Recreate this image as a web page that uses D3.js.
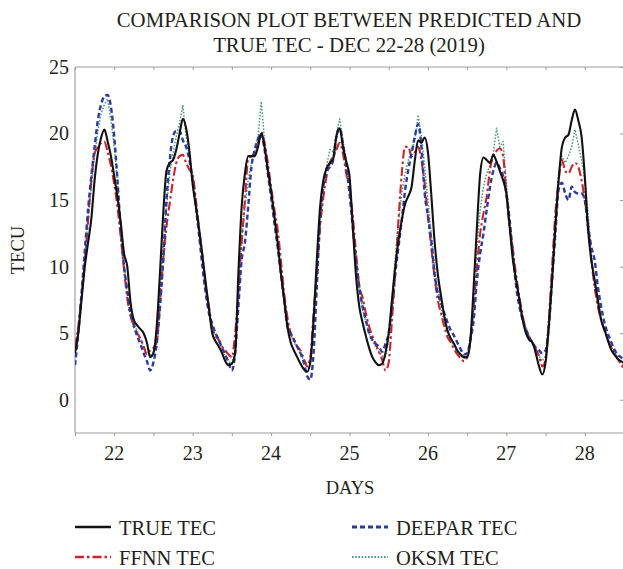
<!DOCTYPE html>
<html>
<head>
<meta charset="utf-8">
<script src="https://cdn.jsdelivr.net/npm/d3@7"></script>
<style>
  html, body { margin: 0; padding: 0; background: #fff; }
  svg text { font-family: "Liberation Serif", "DejaVu Serif", serif; fill: #231f20; }
</style>
</head>
<body>
<svg id="chart" width="623" height="569"></svg>
<script>
// Hourly TEC values, Dec 22 00:00 through Dec 29 00:00 (2019)
const dayLabels = ["22", "23", "24", "25", "26", "27", "28"];
const yTicks = [0, 5, 10, 15, 20, 25];

const trueTec = [
  3.5, 5.0, 7.5, 10.0, 11.8, 13.6, 16.5, 18.5, 19.7, 20.3, 19.4, 18.3, 16.8, 15.2, 13.3, 11.0, 10.0, 7.3, 6.0, 5.6, 5.3, 5.0, 4.3, 3.2,
  3.5, 5.5, 9.5, 14.0, 17.2, 17.8, 18.0, 18.8, 20.0, 21.1, 20.4, 18.7, 16.2, 14.5, 12.8, 10.8, 8.8, 6.8, 5.0, 4.4, 4.0, 3.5, 2.9, 2.6,
  2.7, 3.5, 9.5, 14.5, 17.0, 18.3, 18.3, 18.3, 19.0, 20.0, 19.0, 17.3, 15.7, 13.8, 11.8, 9.5, 7.5, 5.5, 4.3, 3.7, 3.2, 2.7, 2.3, 2.1,
  2.8, 6.0, 10.5, 14.5, 16.5, 17.4, 17.8, 18.1, 19.8, 20.4, 19.0, 17.9, 16.8, 13.0, 9.3, 7.0, 5.8, 4.8, 3.9, 3.2, 2.8, 2.6, 2.7, 3.5,
  5.0, 7.5, 10.0, 12.0, 13.5, 14.7, 15.3, 16.0, 18.0, 19.5, 19.3, 19.7, 18.6, 15.5, 12.0, 9.5, 7.8, 6.3, 5.2, 4.6, 4.2, 3.7, 3.4, 3.2,
  3.2, 4.5, 8.5, 13.0, 17.0, 18.2, 18.0, 17.8, 18.4, 17.9, 17.2, 16.5, 15.5, 13.0, 10.5, 9.0, 7.5, 6.0, 5.0, 4.5, 4.3, 3.5, 2.5, 1.9,
  2.8, 5.5, 9.0, 13.0, 16.5, 19.0, 19.7, 19.9, 21.0, 21.8, 21.0, 19.8, 16.8, 12.8, 10.5, 9.0, 7.5, 6.0, 5.3, 4.5, 3.8, 3.4, 3.1, 2.9,
  2.8
];

const ffnnTec = [
  4.0, 5.5, 7.8, 10.3, 13.5, 16.5, 18.5, 19.0, 19.3, 19.4, 18.6, 17.6, 16.2, 14.5, 12.2, 9.8, 7.6, 6.3, 5.5, 5.0, 4.6, 4.0, 3.4, 3.7,
  3.9, 4.3, 7.2, 10.5, 13.0, 14.8, 16.5, 17.8, 18.3, 18.4, 17.8, 17.3, 16.9, 15.0, 12.8, 10.8, 8.5, 7.0, 5.4, 4.8, 4.5, 4.0, 3.7, 3.4,
  3.2, 5.0, 8.0, 11.8, 15.0, 18.1, 18.3, 18.5, 19.3, 20.1, 19.3, 17.8, 16.0, 14.3, 12.8, 10.5, 8.0, 6.2, 5.0, 4.5, 4.0, 3.7, 3.1, 2.5,
  3.2, 6.5, 9.5, 13.0, 15.2, 16.8, 17.8, 18.3, 18.8, 19.3, 18.5, 17.0, 15.8, 13.8, 11.0, 8.5, 7.7, 6.5, 5.5, 4.8, 4.2, 3.6, 3.0, 2.2,
  2.8, 6.0, 9.5, 13.5, 17.0, 19.0, 19.0, 18.3, 18.6, 19.0, 18.0, 16.2, 13.8, 11.5, 9.3, 7.5, 6.5, 5.5, 4.7, 4.3, 3.8, 3.4, 3.1, 2.9,
  3.2, 4.5, 7.0, 10.0, 12.5, 14.0, 15.3, 17.3, 18.3, 18.7, 18.9, 18.3, 15.5, 13.0, 11.3, 9.3, 7.7, 6.3, 5.3, 4.7, 4.2, 3.8, 3.3, 2.5,
  3.0, 6.0, 10.0, 14.0, 16.5, 18.0, 17.2, 17.0, 17.5, 17.8, 17.5, 16.5, 15.0, 13.2, 10.5, 8.5, 7.0, 6.0, 5.2, 4.6, 4.0, 3.6, 3.1, 2.7,
  2.3
];

const deeparTec = [
  2.6, 5.0, 8.0, 11.2, 14.3, 16.8, 19.0, 21.0, 22.2, 22.8, 22.9, 22.0, 19.8, 16.5, 12.8, 10.0, 8.2, 6.5, 5.6, 4.8, 4.2, 3.5, 2.9, 2.2,
  2.8, 4.2, 7.0, 10.5, 15.0, 18.0, 19.8, 20.2, 20.2, 19.5, 19.0, 18.0, 16.5, 14.5, 12.3, 10.0, 8.0, 6.5, 5.7, 5.0, 4.5, 3.9, 3.4, 2.8,
  2.2, 3.5, 7.0, 10.5, 11.8, 14.5, 17.5, 18.8, 19.6, 20.0, 18.8, 17.0, 15.2, 13.3, 11.5, 9.5, 7.5, 5.5, 5.0, 4.5, 4.0, 3.5, 2.8, 1.8,
  1.5, 3.5, 8.5, 13.5, 16.0, 17.2, 17.5, 18.0, 19.8, 20.4, 19.2, 17.6, 15.5, 13.0, 10.5, 8.5, 7.0, 6.0, 5.0, 4.5, 4.2, 4.0, 3.6, 4.2,
  5.0, 7.0, 9.5, 11.5, 13.5, 15.7, 17.3, 18.5, 19.8, 20.7, 19.0, 15.5, 13.8, 12.0, 9.5, 8.0, 7.3, 6.5, 5.8, 5.2, 4.8, 4.3, 3.8, 3.4,
  3.5, 4.5, 6.0, 9.0, 11.0, 12.5, 14.3, 16.0, 17.2, 17.8, 17.4, 16.8, 15.5, 13.5, 11.0, 8.5, 7.0, 6.0, 5.3, 4.7, 4.3, 3.9, 3.7, 3.5,
  3.7, 5.5, 9.0, 12.5, 15.8, 16.3, 15.5, 15.0, 16.0, 15.6, 15.5, 15.5, 15.0, 13.0, 11.5, 10.5, 8.5, 7.0, 5.8, 5.0, 4.4, 3.8, 3.4, 3.2,
  3.0
];

const oksmTec = [
  3.2, 5.3, 7.8, 10.8, 13.5, 16.0, 18.3, 20.2, 21.5, 22.2, 22.6, 21.0, 19.0, 16.3, 13.0, 10.3, 8.0, 6.5, 5.7, 5.2, 4.6, 4.0, 3.5, 3.3,
  3.6, 5.0, 8.0, 11.5, 14.5, 17.0, 18.5, 19.8, 20.8, 22.1, 19.8, 18.3, 16.6, 14.3, 12.3, 10.2, 8.2, 6.8, 5.6, 4.9, 4.4, 3.8, 3.2, 2.9,
  2.7, 4.0, 8.5, 12.0, 14.5, 16.5, 17.8, 18.6, 19.8, 22.4, 19.5, 17.5, 15.6, 13.8, 12.0, 9.8, 7.8, 5.9, 4.9, 4.3, 3.9, 3.4, 3.0, 2.7,
  3.0, 5.5, 9.5, 13.5, 16.0, 17.6, 18.8, 18.6, 20.0, 21.1, 19.5, 18.0, 16.3, 13.5, 10.5, 8.3, 6.8, 5.8, 5.0, 4.4, 4.0, 3.6, 3.3, 3.2,
  4.5, 7.5, 10.5, 13.5, 15.5, 17.0, 18.0, 18.8, 19.5, 21.4, 19.8, 17.5, 15.0, 12.5, 10.0, 8.3, 7.0, 5.8, 5.0, 4.5, 4.0, 3.6, 3.3, 3.1,
  3.3, 4.8, 8.0, 11.5, 14.3, 16.0, 17.0, 17.6, 18.5, 20.4, 19.0, 19.4, 16.3, 13.3, 10.8, 8.8, 7.2, 6.0, 5.1, 4.6, 4.2, 3.8, 3.3, 2.9,
  3.3, 6.0, 10.0, 14.0, 17.0, 18.3, 17.8, 18.3, 19.0, 20.3, 19.2, 18.0, 16.5, 14.0, 11.0, 8.5, 7.0, 6.0, 5.2, 4.6, 4.0, 3.6, 3.2, 2.8,
  2.6
];

const seriesNames = ["TRUE TEC", "FFNN TEC", "DEEPAR TEC", "OKSM TEC"];

const serif = "'Liberation Serif', 'DejaVu Serif', serif";
const textColor = "#231f20";
const svg = d3.select("#chart");
const plotLeft = 75, plotRight = 624, plotTop = 67, plotBottom = 433;
const axisColor = "#9b9b9b";

const x = d3.scaleLinear().domain([0, 168]).range([plotLeft, plotRight]);
const y = d3.scaleLinear().domain([-2.5, 25]).range([plotBottom, plotTop]);

function label(sel, size) {
  return sel.style("font-family", serif).style("font-size", size + "px").attr("fill", textColor);
}

// clip the traces to the plotting frame
svg.append("defs").append("clipPath").attr("id", "plotClip")
  .append("rect").attr("x", plotLeft).attr("y", plotTop)
  .attr("width", plotRight - plotLeft).attr("height", plotBottom - plotTop);

// title
const title = label(svg.append("text").attr("text-anchor", "middle"), 20.8);
title.append("tspan").attr("x", 349).attr("y", 27).text("COMPARISON PLOT BETWEEN PREDICTED AND");
title.append("tspan").attr("x", 349).attr("y", 52).text("TRUE TEC - DEC 22-28 (2019)");

// frame
const frame = svg.append("g").attr("stroke", axisColor).attr("stroke-width", 1.1).attr("fill", "none");
frame.append("line").attr("x1", plotLeft).attr("x2", plotRight).attr("y1", plotTop).attr("y2", plotTop);
frame.append("line").attr("x1", plotLeft).attr("x2", plotRight).attr("y1", plotBottom).attr("y2", plotBottom);
frame.append("line").attr("x1", plotLeft).attr("x2", plotLeft).attr("y1", plotTop).attr("y2", plotBottom);

// x ticks every half day
const halfDays = d3.range(0, 169, 12);
const gx = svg.append("g").attr("transform", `translate(0,${plotBottom})`)
  .call(d3.axisBottom(x).tickValues(halfDays).tickSize(3).tickFormat(""));
gx.select(".domain").remove();
gx.selectAll(".tick line").attr("stroke", axisColor);
const gxTop = svg.append("g").attr("transform", `translate(0,${plotTop})`)
  .call(d3.axisBottom(x).tickValues(halfDays).tickSize(3).tickFormat(""));
gxTop.select(".domain").remove();
gxTop.selectAll(".tick line").attr("stroke", axisColor);

// day labels centred on each day
label(svg.append("g").selectAll("text").data(dayLabels).join("text")
  .attr("x", (d, i) => x(i * 24 + 12))
  .attr("y", 460)
  .attr("text-anchor", "middle"), 20)
  .text(d => d);

// y axis
const gy = svg.append("g").attr("transform", `translate(${plotLeft},0)`)
  .call(d3.axisLeft(y).tickValues(yTicks).tickSize(0).tickPadding(6));
gy.select(".domain").remove();
label(gy.selectAll(".tick text"), 20);
const gyR = svg.append("g").attr("transform", `translate(${plotRight - 1},0)`)
  .call(d3.axisLeft(y).tickValues(yTicks).tickSize(3).tickFormat(""));
gyR.select(".domain").remove();
gyR.selectAll(".tick line").attr("stroke", axisColor);

// axis titles
label(svg.append("text").attr("x", 350).attr("y", 494).attr("text-anchor", "middle"), 18.5).text("DAYS");
label(svg.append("text").attr("transform", "translate(24,250) rotate(-90)").attr("text-anchor", "middle"), 18.5)
  .text("TECU");

// traces
const styles = [
  { data: trueTec, color: "#111111", width: 2.1, dash: null, curve: d3.curveMonotoneX },
  { data: ffnnTec, color: "#c9232b", width: 2.1, dash: "9,3,2.5,3", curve: d3.curveMonotoneX },
  { data: deeparTec, color: "#2a3a9e", width: 2.4, dash: "5,3", curve: d3.curveMonotoneX },
  { data: oksmTec, color: "#4f9a7c", width: 1.5, dash: "1.6,1.6", curve: d3.curveLinear }
];

const plot = svg.append("g").attr("clip-path", "url(#plotClip)");
// draw order: OKSM and FFNN under, DEEPAR, TRUE on top
[3, 1, 2, 0].forEach(k => {
  const s = styles[k];
  const line = d3.line().x((d, i) => x(i)).y(d => y(d)).curve(s.curve);
  plot.append("path")
    .datum(s.data)
    .attr("fill", "none")
    .attr("stroke", s.color)
    .attr("stroke-width", s.width)
    .attr("stroke-dasharray", s.dash)
    .attr("stroke-linejoin", "round")
    .attr("d", line);
});

// legend
const legendPos = [
  { x: 75, y: 527 },
  { x: 75, y: 557 },
  { x: 352, y: 527 },
  { x: 352, y: 557 }
];
const legend = svg.append("g");
seriesNames.forEach((name, k) => {
  const p = legendPos[k], s = styles[k];
  legend.append("line")
    .attr("x1", p.x).attr("x2", p.x + 36).attr("y1", p.y).attr("y2", p.y)
    .attr("stroke", s.color).attr("stroke-width", s.width + 0.4)
    .attr("stroke-dasharray", s.dash);
  label(legend.append("text").attr("x", p.x + 44).attr("y", p.y + 7.5), 20.5).text(name);
});
</script>
</body>
</html>
